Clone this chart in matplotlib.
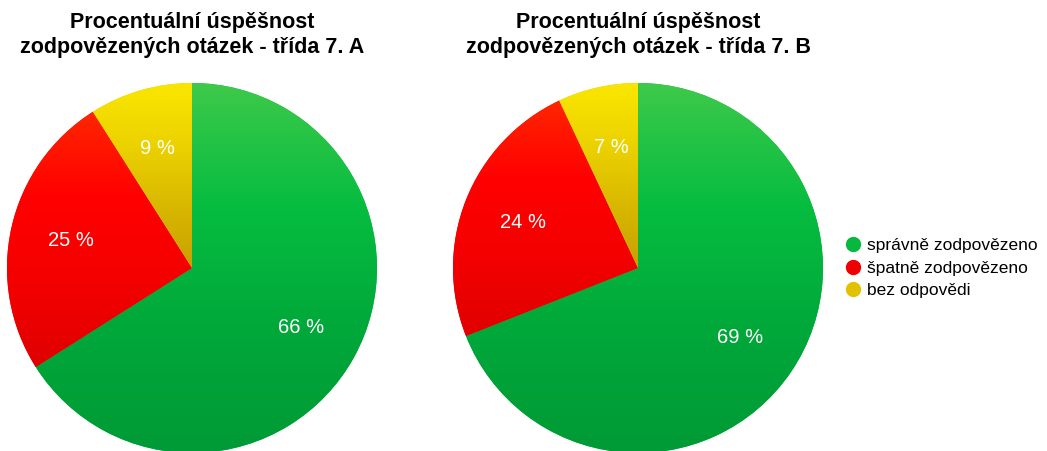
import numpy as np
import matplotlib.pyplot as plt
from matplotlib.colors import LinearSegmentedColormap
from matplotlib.lines import Line2D

plt.rcParams['font.family'] = ['Liberation Sans', 'DejaVu Sans']

# == data ========================================================
classes = ['7. A', '7. B']
categories = ['správně zodpovězeno', 'špatně zodpovězeno', 'bez odpovědi']
values_a = [66, 25, 9]
values_b = [69, 24, 7]

# flat colours (legend) and gradient stops (top -> bottom) for each slice
flat_colors = ['#07b83f', '#f00000', '#e2c200']
gradients = [
    ['#3ec94a', '#06bd40', '#00a83a', '#009a36'],
    ['#ff2600', '#ff0000', '#f40000', '#e00000'],
    ['#fae600', '#ecd200', '#d8b800', '#c8a000'],
]

W, H = 1047, 451
fig = plt.figure(figsize=(W / 100, H / 100), dpi=100)


def draw_pie(values, cx, cy, r, title):
    ax = fig.add_axes([(cx - r) / W, (H - cy - r) / H, 2 * r / W, 2 * r / H])
    wedges, _, autotexts = ax.pie(
        values, colors=flat_colors, startangle=90, counterclock=False,
        radius=1, autopct=lambda p: f'{p:.0f} %', pctdistance=0.67,
        textprops=dict(color='white', fontsize=14.5))
    for w, stops in zip(wedges, gradients):
        # vertical gradient over the wedge's own height
        ext = w.get_path().get_extents(w.get_patch_transform())
        cmap = LinearSegmentedColormap.from_list('g', stops)
        grad = np.linspace(0, 1, 256).reshape(-1, 1)
        im = ax.imshow(grad, cmap=cmap, aspect='auto',
                       extent=[ext.x0, ext.x1, ext.y0, ext.y1],
                       origin='upper', zorder=w.get_zorder() + 0.1)
        im.set_clip_path(w)
    for t in autotexts:
        t.set_zorder(5)
    ax.set_xlim(-1, 1)
    ax.set_ylim(-1, 1)
    ax.set_aspect('equal')
    ax.axis('off')
    fig.text(cx / W, 1 - 35 / H, title, ha='center', va='center',
             fontsize=15.5, fontweight='bold', linespacing=1.22)


draw_pie(values_a, 192, 268, 185,
         'Procentuální úspěšnost\nzodpovězených otázek - třída ' + classes[0])
draw_pie(values_b, 638, 268, 185,
         'Procentuální úspěšnost\nzodpovězených otázek - třída ' + classes[1])

handles = [Line2D([], [], marker='o', linestyle='', markersize=10,
                  markerfacecolor=c, markeredgecolor=c) for c in flat_colors]
fig.legend(handles, categories, loc='center left',
           bbox_to_anchor=(836 / W, 1 - 268 / H), frameon=False,
           fontsize=12.5, handletextpad=0.2, labelspacing=0.4,
           handlelength=1.2, borderaxespad=0)

fig.savefig('out.png', dpi=100)
